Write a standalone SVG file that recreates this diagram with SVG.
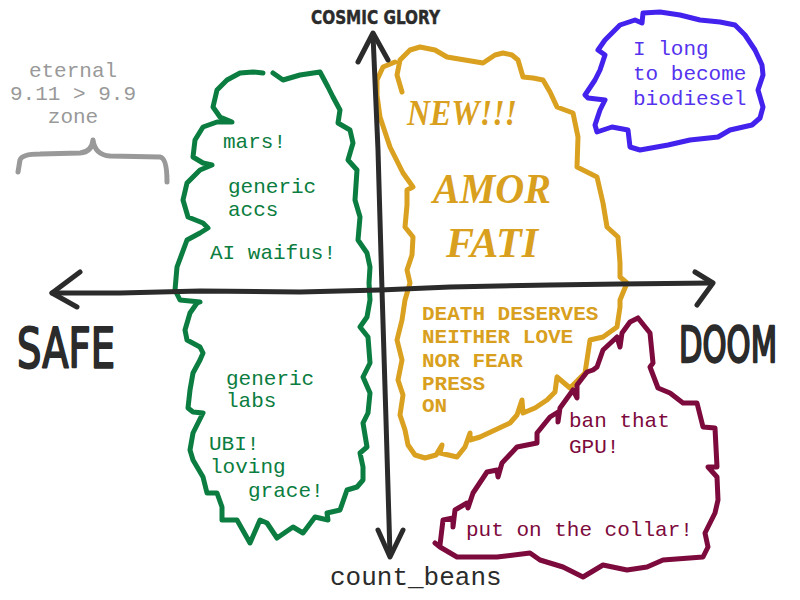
<svg xmlns="http://www.w3.org/2000/svg" width="800" height="600" viewBox="0 0 800 600">
<style>
.ln{fill:none;stroke-linecap:round;stroke-linejoin:round}
.ax{stroke:#2b2b2b;stroke-width:5}
.cloud{stroke-width:5}
.mono{font-family:"Liberation Mono","DejaVu Sans Mono",monospace;font-size:21px}
.hand{font-family:"DejaVu Sans","Liberation Sans",sans-serif;fill:#2b2b2b;stroke:#2b2b2b;stroke-linejoin:round}
.goth{font-family:"Liberation Serif","DejaVu Serif",serif;font-weight:bold;font-style:italic;fill:#d9a020;text-anchor:middle}
</style>
<rect width="800" height="600" fill="#ffffff"/>

<g id="zone-note">
<path class="ln" d="M18,172 L20,160 Q22,154 40,154 L80,153 Q92,152 93,140 Q95,155 110,156 L160,157 Q167,158 167,182" stroke="#999999" stroke-width="5"/>
<g class="mono" fill="#999999" text-anchor="middle">
<text x="73" y="77">eternal</text>
<text x="73" y="100">9.11 &gt; 9.9</text>
<text x="73" y="123">zone</text>
</g>
</g>

<g id="safe-cloud">
<path class="ln cloud" stroke="#0b7d40" d="M273,73 L283,80 L300,75 L320,72 L328,87 L333,97 L340,110 L338,123 L350,130 L353,143 L348,160 L357,170 L355,200 L360,217 L358,240 L367,253 L370,267 L369,283 L370,300 L367,317 L360,327 L368,337 L370,363 L363,377 L370,393 L368,413 L363,423 L367,447 L360,453 L363,467 L363,480 L357,487 L347,490 L340,510 L327,513 L328,520 L315,517 L303,533 L293,527 L277,538 L267,523 L260,520 L250,543 L237,520 L222,520 L222,507 L217,493 L207,493 L203,477 L193,460 L190,450 L193,433 L203,413 L193,412 L188,408 L190,390 L193,373 L200,360 L203,353 L200,347 L187,340 L185,330 L190,313 L197,303 L200,302 L180,300 L175,290 L177,267 L187,240 L200,233 L208,228 L203,223 L188,217 L183,200 L187,183 L200,170 L212,165 L203,163 L193,157 L195,140 L203,127 L217,122 L232,122 L220,117 L213,107 L217,90 L227,80 L240,73 L253,72 L263,73"/>
<g class="mono" fill="#0b7d40">
<text x="223" y="148">mars!</text>
<text x="228" y="193">generic</text>
<text x="228" y="216">accs</text>
<text x="210" y="259">AI waifus!</text>
<text x="226" y="385">generic</text>
<text x="226" y="407">labs</text>
<text x="209" y="450">UBI!</text>
<text x="210" y="473">loving</text>
<text x="248" y="497">grace!</text>
</g>
</g>

<g id="amor-cloud">
<path class="ln cloud" stroke="#daa020" d="M402,92 L397,75 L400,60 L410,50 L420,47 L435,50 L447,57 L465,60 L483,63 L495,55 L503,53 L512,55 L518,60 L523,77 L533,78 L543,80 L550,92 L557,107 L573,113 L578,137 L577,167 L597,177 L603,203 L607,227 L618,237 L620,263 L620,277 L627,283 L620,300 L620,307 L617,327 L603,337 L590,340 L585,373 L570,388 L557,377 L555,392 L547,400 L535,408 L523,413 L522,400 L517,415 L510,423 L495,430 L480,437 L470,440 L470,433 L465,447 L457,457 L440,453 L442,445 L436,455 L425,458 L415,455 L408,445 L405,430 L400,415 L403,395 L398,380 L402,360 L397,340 L402,320 L405,300 L410,283 L407,270 L412,255 L413,237 L405,227 L407,205 L407,190 L413,187 L403,173 L390,147 L380,117 L377,95 L377,80 L383,67 L395,62"/>
<text class="goth" x="462" y="125" font-size="36" textLength="110" lengthAdjust="spacingAndGlyphs">NEW!!!</text>
<text class="goth" x="492" y="203" font-size="42" textLength="118" lengthAdjust="spacingAndGlyphs">AMOR</text>
<text class="goth" x="492" y="257" font-size="42" textLength="92" lengthAdjust="spacingAndGlyphs">FATI</text>
<g class="mono" fill="#d9a020" font-weight="bold" font-size="20">
<text x="422" y="320">DEATH DESERVES</text>
<text x="422" y="343">NEITHER LOVE</text>
<text x="422" y="367">NOR FEAR</text>
<text x="422" y="390">PRESS</text>
<text x="422" y="412">ON</text>
</g>
</g>

<g id="biodiesel-cloud">
<path class="ln cloud" stroke="#4422ee" d="M643,13 L660,12 L680,15 L700,20 L720,22 L735,25 L745,35 L755,50 L762,65 L763,75 L758,90 L763,107 L760,118 L752,125 L730,130 L718,137 L690,140 L668,145 L640,150 L630,147 L628,130 L612,127 L597,132 L595,125 L600,110 L605,100 L588,98 L585,95 L595,80 L600,70 L605,55 L598,50 L605,40 L620,25 L635,20 L642,23 Z"/>
<g class="mono" fill="#5533ee">
<text x="633" y="55">I long</text>
<text x="633" y="80">to become</text>
<text x="633" y="105">biodiesel</text>
</g>
</g>

<g id="gpu-cloud">
<path class="ln cloud" stroke="#7d0a3c" d="M638,318 L650,333 L653,363 L650,367 L658,388 L670,393 L683,403 L697,403 L703,427 L715,428 L717,467 L708,467 L717,477 L718,500 L715,513 L705,533 L708,547 L703,557 L663,560 L647,567 L627,570 L603,565 L583,577 L563,567 L540,560 L530,553 L497,557 L457,557 L440,547 L435,543 M440,545 L443,520 L453,518 L453,527 L455,510 L467,503 L468,508 L473,493 L487,472 L497,470 L498,477 L502,463 L517,447 L537,443 L537,433 L550,417 L558,412 L558,422 L560,408 L573,390 L577,398 L577,385 L587,372 L593,370 L597,367 L603,350 L617,337 L620,347 L622,333 L630,322 L638,318"/>
<g class="mono" fill="#7d0a3c">
<text x="569" y="427">ban that</text>
<text x="569" y="453">GPU!</text>
<text x="466" y="536">put on the collar!</text>
</g>
</g>

<g id="axes">
<path class="ln ax" d="M52,293 L120,293 L200,291 L300,292 L380,290 L450,287 L550,285 L620,284 L712,283"/>
<path class="ln ax" d="M80,272 L52,293 L77,307"/>
<path class="ln ax" d="M695,272 L713,283 L697,305"/>
<path class="ln ax" d="M373,35 L378,150 L382,290 L386,420 L390,555"/>
<path class="ln ax" d="M358,62 L373,33 L388,60"/>
<path class="ln ax" d="M378,530 L390,557 L403,530"/>
</g>

<g id="labels">
<text class="hand" transform="translate(17,367) scale(1,1.4)" font-size="39" stroke-width="1.5" textLength="98" lengthAdjust="spacingAndGlyphs">SAFE</text>
<text class="hand" transform="translate(679,362) scale(1,1.6)" font-size="31" stroke-width="1.5" textLength="98" lengthAdjust="spacingAndGlyphs">DOOM</text>
<text class="hand" x="311" y="24" font-size="20" font-weight="bold" stroke-width="0.5" textLength="129" lengthAdjust="spacingAndGlyphs">COSMIC GLORY</text>
<text x="330" y="585" font-family="'Liberation Mono','DejaVu Sans Mono',monospace" font-size="26" fill="#2b2b2b">count_beans</text>
</g>
</svg>
